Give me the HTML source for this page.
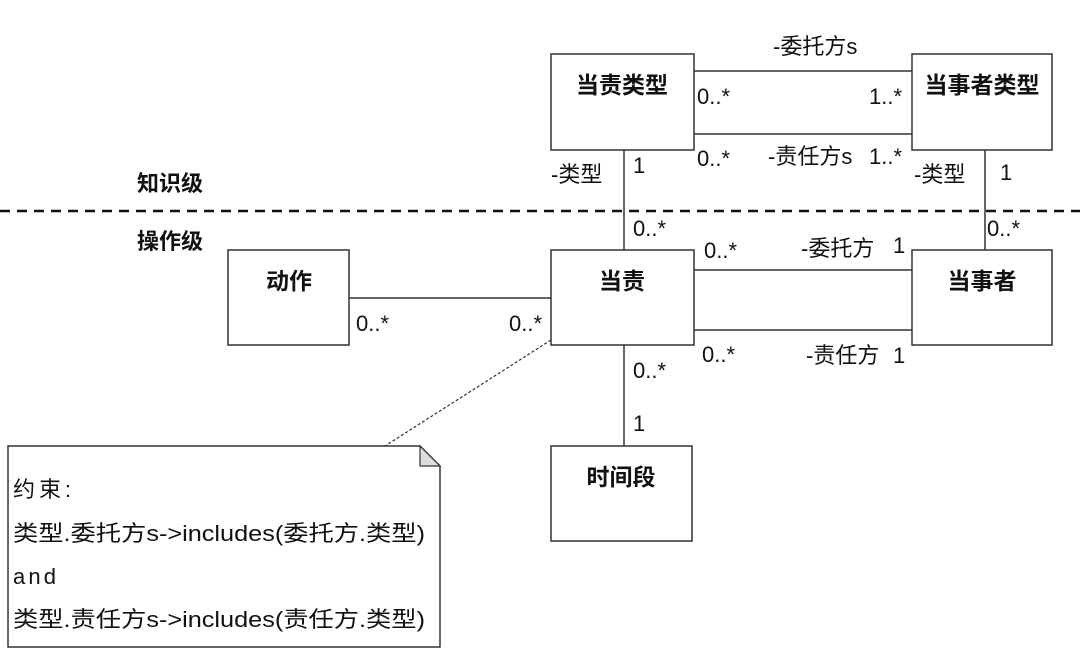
<!DOCTYPE html>
<html><head><meta charset="utf-8"><style>
body{margin:0;background:#fff;}
svg text{font-family:"Liberation Sans","Noto Sans CJK SC",sans-serif;font-size:22px;fill:#111;}
.b{font-weight:bold;font-size:23px;}
.lv{font-weight:bold;font-size:22px;}
</style></head><body>
<svg width="1080" height="665" xmlns="http://www.w3.org/2000/svg">
<g fill="#fff" stroke="#333" stroke-width="1.5">
<rect x="551" y="54" width="143" height="96"/>
<rect x="912" y="54" width="140" height="96"/>
<rect x="551" y="250" width="143" height="95"/>
<rect x="912" y="250" width="140" height="95"/>
<rect x="228" y="250" width="121" height="95"/>
<rect x="551" y="446" width="141" height="95"/>
<path d="M8 446 H420 L440 466 V647 H8 Z"/>
</g>
<path d="M420 446 L420 466 L440 466 Z" fill="#ddd" stroke="#333" stroke-width="1.2"/>
<g stroke="#333" stroke-width="1.5">
<line x1="694" y1="71" x2="912" y2="71"/>
<line x1="694" y1="134" x2="912" y2="134"/>
<line x1="624" y1="150" x2="624" y2="250"/>
<line x1="985" y1="150" x2="985" y2="250"/>
<line x1="694" y1="270" x2="912" y2="270"/>
<line x1="694" y1="330" x2="912" y2="330"/>
<line x1="349" y1="298" x2="551" y2="298"/>
<line x1="624" y1="345" x2="624" y2="446"/>
</g>
<line x1="0" y1="211" x2="1080" y2="211" stroke="#111" stroke-width="2.5" stroke-dasharray="10,7"/>
<line x1="551" y1="340" x2="385" y2="446" stroke="#333" stroke-width="1.2" stroke-dasharray="3,2"/>
<text class="b" x="622" y="93" text-anchor="middle">当责类型</text>
<text class="b" x="982" y="93" text-anchor="middle">当事者类型</text>
<text class="b" x="622" y="289" text-anchor="middle">当责</text>
<text class="b" x="982" y="289" text-anchor="middle">当事者</text>
<text class="b" x="289" y="289" text-anchor="middle">动作</text>
<text class="b" x="621" y="485" text-anchor="middle">时间段</text>
<text class="lv" x="137" y="191">知识级</text>
<text class="lv" x="137" y="249">操作级</text>
<text x="773" y="54">-委托方s</text>
<text x="697" y="104">0..*</text>
<text x="869" y="104">1..*</text>
<text x="697" y="166">0..*</text>
<text x="768" y="164">-责任方s</text>
<text x="869" y="164">1..*</text>
<text x="551" y="182">-类型</text>
<text x="633" y="173">1</text>
<text x="914" y="182">-类型</text>
<text x="1000" y="180">1</text>
<text x="633" y="236">0..*</text>
<text x="987" y="236">0..*</text>
<text x="704" y="258">0..*</text>
<text x="801" y="256">-委托方</text>
<text x="893" y="253">1</text>
<text x="356" y="331">0..*</text>
<text x="509" y="331">0..*</text>
<text x="702" y="362">0..*</text>
<text x="806" y="363">-责任方</text>
<text x="893" y="363">1</text>
<text x="633" y="378">0..*</text>
<text x="633" y="431">1</text>
<text x="13" y="497" textLength="58">约束:</text>
<text x="13" y="541" textLength="412" lengthAdjust="spacingAndGlyphs">类型.委托方s-&gt;includes(委托方.类型)</text>
<text x="13" y="584" textLength="43">and</text>
<text x="13" y="627" textLength="412" lengthAdjust="spacingAndGlyphs">类型.责任方s-&gt;includes(责任方.类型)</text>
</svg>
</body></html>
